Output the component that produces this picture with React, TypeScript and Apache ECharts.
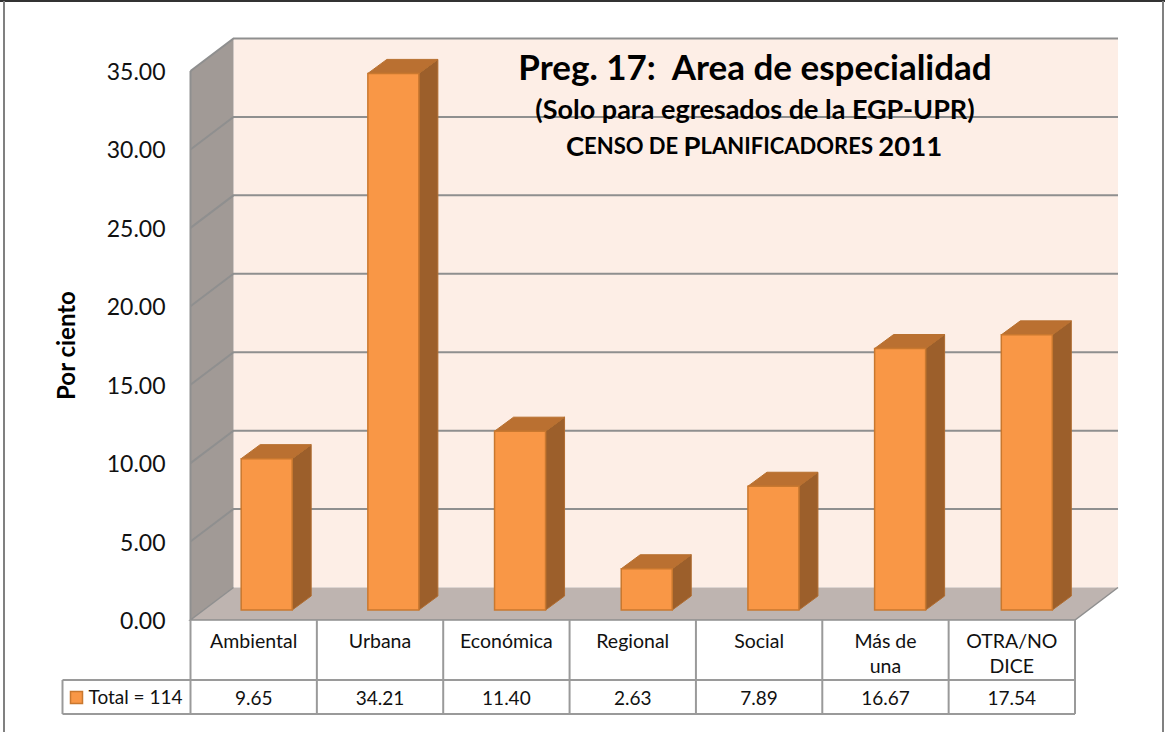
import React, { useEffect, useRef } from "react";
import * as echarts from "echarts";

const categories = ["Ambiental", "Urbana", "Económica", "Regional", "Social", "Más de\nuna", "OTRA/NO\nDICE"];
const values = [9.65, 34.21, 11.4, 2.63, 7.89, 16.67, 17.54];
const yTicks = [0, 5, 10, 15, 20, 25, 30, 35];
const seriesName = "Total = 114";
const FONT = "Lato";
const DX = 43, DY = -32.5;      // wall depth
const BDX = 13, BDY = -10;      // bar inset in depth
const BDRIFT = 0.33;            // perspective drift per category
const BSX = 19, BSY = -14;      // bar depth
const BW = 51;                  // bar width
const GRID = "#8f8f8f";

export default function App() {
  const ref = useRef<HTMLDivElement>(null);
  useEffect(() => {
    document.body.style.margin = "0";
    const chart = echarts.init(ref.current!, null, { renderer: "svg" });

    const frame = (api: any) => {
      const band = api.size([1, 0])[0];
      const x0 = api.coord([0, 0])[0] - band / 2;
      const x1 = x0 + band * categories.length;
      const yb = api.coord([0, 0])[1];
      const yt = api.coord([0, 35])[1];
      return { band, x0, x1, yb, yt };
    };

    const option: any = {
      animation: false,
      backgroundColor: "#ffffff",
      grid: { left: 190.5, top: 71, width: 884.5, height: 549, containLabel: false },
      xAxis: {
        type: "category",
        data: categories,
        axisLine: { show: false },
        axisTick: { show: false },
        splitLine: { show: false },
        axisLabel: {
          interval: 0,
          margin: 8,
          fontFamily: FONT,
          fontSize: 19.5,
          lineHeight: 25,
          color: "#111111",
          verticalAlign: "top",
        },
      },
      yAxis: {
        type: "value",
        min: 0,
        max: 35,
        interval: 5,
        name: "Por ciento",
        nameLocation: "middle",
        nameGap: 113,
        nameTextStyle: { fontFamily: FONT, fontSize: 24, fontWeight: "bold", color: "#000000" },
        axisLine: { show: false },
        axisTick: { show: false },
        splitLine: { show: false },
        axisLabel: {
          margin: 25,
          fontFamily: FONT,
          fontSize: 23,
          color: "#111111",
          formatter: (v: number) => v.toFixed(2),
        },
      },
      series: [
        {
          type: "custom",
          name: "walls",
          silent: true,
          clip: false,
          z: 1,
          data: [[0, 0]],
          renderItem: (_p: any, api: any) => {
            const { x0, x1, yb, yt } = frame(api);
            return {
              type: "group",
              children: [
                { type: "polygon", shape: { points: [[x0 + DX, yt + DY], [x1 + DX, yt + DY], [x1 + DX, yb + DY], [x0 + DX, yb + DY]] }, style: { fill: "#fdeee6" } },
                { type: "polygon", shape: { points: [[x0, yt], [x0 + DX, yt + DY], [x0 + DX, yb + DY], [x0, yb]] }, style: { fill: "#a19a96" } },
                { type: "polygon", shape: { points: [[x0, yb], [x0 + DX, yb + DY], [x1 + DX, yb + DY], [x1, yb]] }, style: { fill: "#beb4b0" } },
              ],
            };
          },
        },
        {
          type: "custom",
          name: "gridlines",
          silent: true,
          clip: false,
          z: 2,
          data: yTicks.map((t) => [0, t]),
          renderItem: (_p: any, api: any) => {
            const { x0, x1, yb } = frame(api);
            const t = api.value(1);
            const y = api.coord([0, t])[1];
            const style = { stroke: GRID, lineWidth: t === 0 ? 1.5 : 2, fill: "none" };
            if (t === 0) {
              return {
                type: "group",
                children: [
                  { type: "polyline", shape: { points: [[x0 + DX, yb + DY], [x0, yb], [x1, yb], [x1 + DX, yb + DY]] }, style },
                  { type: "line", shape: { x1: x0, y1: yb, x2: x0, y2: api.coord([0, 35])[1] }, style: { stroke: GRID, lineWidth: 2 } },
                ],
              };
            }
            return {
              type: "polyline",
              shape: { points: [[x0, y], [x0 + DX, y + DY], [x1 + DX, y + DY]] },
              style,
            };
          },
        },
        {
          type: "custom",
          name: seriesName,
          silent: true,
          clip: false,
          z: 3,
          data: values.map((v, i) => [i, v]),
          renderItem: (_p: any, api: any) => {
            const i = api.value(0);
            const v = api.value(1);
            const cx = api.coord([i, 0])[0] + BDX + BDRIFT * i;
            const yb = api.coord([i, 0])[1] + BDY;
            const yt = api.coord([i, v])[1] + BDY;
            const l = cx - BW / 2, r = cx + BW / 2;
            const edge = "#c9782f";
            return {
              type: "group",
              children: [
                { type: "polygon", shape: { points: [[r, yb], [r + BSX, yb + BSY], [r + BSX, yt + BSY], [r, yt]] }, style: { fill: "#9c5f2b", stroke: "#b06c30", lineWidth: 1 } },
                { type: "polygon", shape: { points: [[l, yt], [l + BSX, yt + BSY], [r + BSX, yt + BSY], [r, yt]] }, style: { fill: "#ba7031", stroke: "#b8702f", lineWidth: 1 } },
                { type: "rect", shape: { x: l, y: yt, width: BW, height: yb - yt }, style: { fill: "#f99746", stroke: edge, lineWidth: 1.5 } },
              ],
            };
          },
        },
        {
          type: "custom",
          name: "table",
          silent: true,
          clip: false,
          z: 4,
          data: values.map((v, i) => [i, v]),
          renderItem: (_p: any, api: any) => {
            const i = api.value(0);
            const v = api.value(1);
            const { band, x0, x1, yb } = frame(api);
            const rowTop = yb + 60, rowBottom = yb + 94;
            const cx = api.coord([i, 0])[0];
            const right = cx + band / 2;
            const line = (a: number, b: number, c: number, d: number, lw = 2) => ({
              type: "line",
              shape: { x1: a, y1: b, x2: c, y2: d },
              style: { stroke: "#9a9a9a", lineWidth: lw },
            });
            const children: any[] = [
              line(right, yb, right, rowBottom),
              {
                type: "text",
                style: { x: cx, y: (rowTop + rowBottom) / 2 + 0.5, text: Number(v).toFixed(2), fill: "#111111", fontFamily: FONT, fontSize: 19, align: "center", verticalAlign: "middle" },
              },
            ];
            if (i === 0) {
              const legL = x0 - 128;
              children.push(
                line(x0, yb, x0, rowBottom),
                line(legL, rowTop, x1, rowTop),
                line(legL, rowBottom, x1, rowBottom),
                line(legL, rowTop, legL, rowBottom),
                { type: "rect", shape: { x: legL + 8, y: rowTop + 11.5, width: 12, height: 12 }, style: { fill: "#f99746", stroke: "#c9782f", lineWidth: 1.5 } },
                { type: "text", style: { x: legL + 26, y: rowTop + 16.5, text: seriesName, fill: "#111111", fontFamily: FONT, fontSize: 19, align: "left", verticalAlign: "middle" } },
              );
            }
            return { type: "group", children };
          },
        },
      ],
      graphic: [
        { type: "line", z: 10, shape: { x1: 0, y1: 1, x2: 1165, y2: 1 }, style: { stroke: "#333333", lineWidth: 2 } },
        { type: "line", z: 10, shape: { x1: 4, y1: 1, x2: 4, y2: 732 }, style: { stroke: "#808080", lineWidth: 2 } },
        { type: "line", z: 10, shape: { x1: 1163, y1: 1, x2: 1163, y2: 732 }, style: { stroke: "#808080", lineWidth: 2 } },
        {
          type: "text", z: 10, x: 755, y: 66,
          style: { text: "Preg. 17:  Area de especialidad", fontFamily: FONT, fontSize: 35, fontWeight: "bold", fill: "#000000", align: "center", verticalAlign: "middle" },
        },
        {
          type: "text", z: 10, x: 755, y: 108,
          style: { text: "(Solo para egresados de la EGP-UPR)", fontFamily: FONT, fontSize: 27, fontWeight: "bold", fill: "#000000", align: "center", verticalAlign: "middle" },
        },
        {
          type: "text", z: 10, x: 754, y: 145,
          style: {
            text: "{b|C}{s|ENSO DE }{b|P}{s|LANIFICADORES }{b|2011}",
            align: "center",
            verticalAlign: "middle",
            rich: {
              b: { fontFamily: FONT, fontSize: 27.5, fontWeight: "bold", fill: "#000000" },
              s: { fontFamily: FONT, fontSize: 22, fontWeight: "bold", fill: "#000000" },
            },
          },
        },
      ],
    };
    chart.setOption(option);
    return () => chart.dispose();
  }, []);
  return <div ref={ref} style={{ position: "absolute", left: 0, top: 0, width: 1165, height: 732 }} />;
}
